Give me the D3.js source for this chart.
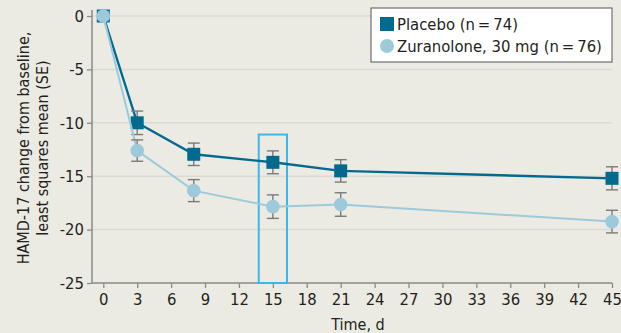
<!DOCTYPE html>
<html>
<head>
<meta charset="utf-8">
<script src="https://cdn.jsdelivr.net/npm/d3@7"></script>
<style>
  html, body { margin: 0; padding: 0; background: #ecebe3; }
  svg { display: block; }
  text { font-family: "DejaVu Sans Condensed", "Liberation Sans", sans-serif; fill: #231f20; }
</style>
</head>
<body>
<svg id="chart" width="621" height="333"></svg>
<script>
// Study days and least squares mean change in HAMD-17 (with SE)
const days = [0, 3, 8, 15, 21, 45];
const placeboMean = [0, -10.0, -12.95, -13.7, -14.5, -15.2];
const placeboSE = [0, 1.1, 1.05, 1.07, 1.05, 1.08];
const zuranoloneMean = [0, -12.6, -16.35, -17.85, -17.65, -19.25];
const zuranoloneSE = [0, 1.0, 1.03, 1.1, 1.1, 1.06];

const xTicks = d3.range(0, 46, 3);
const yTicks = [0, -5, -10, -15, -20, -25];
const seriesNames = ["Placebo (n\u2009=\u200974)", "Zuranolone, 30 mg (n\u2009=\u200976)"];

// Day 15 primary end point highlight
const highlightDays = [13.75, 16.25];
const highlightTop = -11.1;

const colors = { placebo: "#036a8f", zuranolone: "#9dcadb", highlight: "#3db7e8", err: "#7a7a7a" };

const svg = d3.select("#chart");
const plot = { left: 92, right: 612, top: 16, bottom: 283 };

const x = d3.scaleLinear().domain([-1, 45]).range([plot.left, plot.right]);
const y = d3.scaleLinear().domain([0, -25]).range([plot.top, plot.bottom]);

// horizontal grid
svg.append("g").selectAll("line").data(yTicks.filter(d => d !== -25)).join("line")
  .attr("x1", plot.left).attr("x2", plot.right)
  .attr("y1", d => y(d)).attr("y2", d => y(d))
  .attr("stroke", "#dcdbd2").attr("stroke-width", 1.5);

// axes (plain hyphen for negative numbers)
const yAxis = svg.append("g").attr("transform", `translate(${plot.left},0)`)
  .call(d3.axisLeft(y).tickValues(yTicks).tickSize(5).tickPadding(3).tickFormat(d => String(d)));
yAxis.select(".domain").attr("d", `M0,${plot.top - 6}V${plot.bottom}`);

const xAxis = svg.append("g").attr("transform", `translate(0,${plot.bottom})`)
  .call(d3.axisBottom(x).tickValues(xTicks).tickSize(5).tickPadding(5).tickSizeOuter(0));
xAxis.select(".domain").attr("d", `M${plot.left},0H${plot.right}`);

svg.selectAll(".tick line").attr("stroke", "#8a8a8a").attr("stroke-width", 1.3);
svg.selectAll(".domain").attr("stroke", "#8a8a8a").attr("stroke-width", 1.5);
svg.selectAll(".tick text").attr("font-size", 16.5).attr("fill", "#231f20")
  .attr("font-family", '"DejaVu Sans Condensed", "Liberation Sans", sans-serif');

// axis titles
svg.append("text").attr("x", 358).attr("y", 330).attr("text-anchor", "middle")
  .attr("font-size", 16).text("Time, d");
const yt = svg.append("text").attr("transform", `translate(0,148) rotate(-90)`)
  .attr("text-anchor", "middle").attr("font-size", 16);
yt.append("tspan").attr("x", 0).attr("y", 29).text("HAMD-17 change from baseline,");
yt.append("tspan").attr("x", 0).attr("y", 48).text("least squares mean (SE)");

// highlight box
svg.append("rect")
  .attr("x", x(highlightDays[0])).attr("y", y(highlightTop))
  .attr("width", x(highlightDays[1]) - x(highlightDays[0]))
  .attr("height", y(-25) - y(highlightTop))
  .attr("fill", "none").attr("stroke", colors.highlight).attr("stroke-width", 2);

const line = d3.line().x(d => x(d[0])).y(d => y(d[1]));

function drawSeries(mean, se, color, width, shape) {
  const pts = days.map((d, i) => [d, mean[i], se[i]]);
  const g = svg.append("g");
  g.append("path").datum(pts).attr("d", line)
    .attr("fill", "none").attr("stroke", color).attr("stroke-width", width);
  const eb = g.selectAll(".eb").data(pts.filter(p => p[2] > 0)).join("g");
  eb.append("line").attr("x1", p => x(p[0])).attr("x2", p => x(p[0]))
    .attr("y1", p => y(p[1] + p[2])).attr("y2", p => y(p[1] - p[2]));
  [1, -1].forEach(s => {
    eb.append("line").attr("x1", p => x(p[0]) - 6).attr("x2", p => x(p[0]) + 6)
      .attr("y1", p => y(p[1] + s * p[2])).attr("y2", p => y(p[1] + s * p[2]));
  });
  eb.selectAll("line").attr("stroke", colors.err).attr("stroke-width", 1.4);
  if (shape === "square") {
    g.selectAll("rect").data(pts).join("rect")
      .attr("x", p => x(p[0]) - 6.5).attr("y", p => y(p[1]) - 6.5)
      .attr("width", 13).attr("height", 13).attr("fill", color);
  } else {
    g.selectAll("circle").data(pts).join("circle")
      .attr("cx", p => x(p[0])).attr("cy", p => y(p[1])).attr("r", 6.8).attr("fill", color);
  }
}

drawSeries(placeboMean, placeboSE, colors.placebo, 2.4, "square");
drawSeries(zuranoloneMean, zuranoloneSE, colors.zuranolone, 2, "circle");

// legend
const lg = svg.append("g");
lg.append("rect").attr("x", 371).attr("y", 8).attr("width", 241).attr("height", 54)
  .attr("fill", "#ffffff").attr("stroke", "#555").attr("stroke-width", 1);
lg.append("rect").attr("x", 380).attr("y", 17).attr("width", 14).attr("height", 14).attr("fill", colors.placebo);
lg.append("circle").attr("cx", 387).attr("cy", 46).attr("r", 7).attr("fill", colors.zuranolone);
lg.selectAll(".lt").data(seriesNames).join("text")
  .attr("x", 397).attr("y", (d, i) => 30 + i * 22)
  .attr("font-size", 16.5).text(d => d);
</script>
</body>
</html>
